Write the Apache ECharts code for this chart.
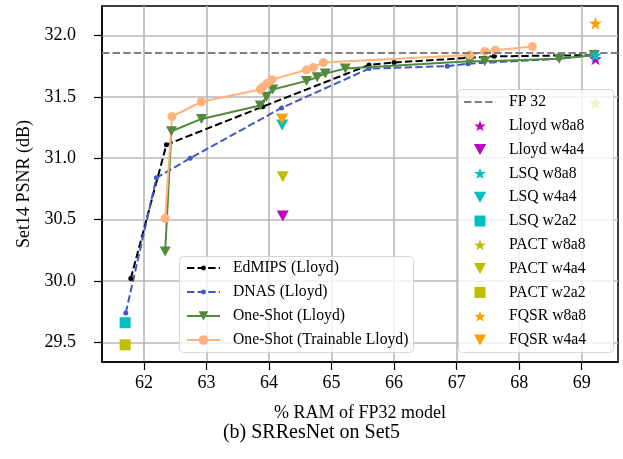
<!DOCTYPE html>
<html><head><meta charset="utf-8">
<script src="https://cdn.jsdelivr.net/npm/echarts@6/dist/echarts.min.js"></script>
<style>html,body{margin:0;padding:0;background:#fff}#c{width:623px;height:459px}</style>
</head><body><div id="c"></div><script>
// ---- data ----
const xTicks = [62, 63, 64, 65, 66, 67, 68, 69];
const yTicks = [29.5, 30.0, 30.5, 31.0, 31.5, 32.0];

const edmipsX = [61.79, 62.36, 63.90, 65.60, 66.00, 67.60, 69.20];
const edmipsY = [30.02, 31.11, 31.42, 31.76, 31.78, 31.83, 31.84];

const dnasX = [61.71, 62.20, 62.74, 64.20, 65.60, 66.85, 67.18, 68.63, 69.20];
const dnasY = [29.74, 30.84, 31.00, 31.41, 31.73, 31.75, 31.77, 31.81, 31.84];

const oneShotX = [62.34, 62.44, 62.92, 63.86, 63.96, 64.06, 64.60, 64.77, 64.90, 65.22, 67.21, 67.45, 68.64, 69.20];
const oneShotY = [30.24, 31.22, 31.32, 31.43, 31.50, 31.56, 31.63, 31.66, 31.69, 31.73, 31.79, 31.79, 31.81, 31.84];

const trainX = [62.34, 62.45, 62.92, 63.86, 63.90, 63.97, 64.05, 64.60, 64.71, 64.87, 67.21, 67.45, 67.62, 68.21];
const trainY = [30.51, 31.34, 31.46, 31.56, 31.58, 31.61, 31.64, 31.72, 31.74, 31.78, 31.84, 31.87, 31.88, 31.91];

const fp32 = 31.86;

const pointNames = ['Lloyd w8a8', 'Lloyd w4a4', 'LSQ w8a8', 'LSQ w4a4', 'LSQ w2a2',
  'PACT w8a8', 'PACT w4a4', 'PACT w2a2', 'FQSR w8a8', 'FQSR w4a4'];
const pointX = [69.22, 64.22, 69.22, 64.21, 61.70, 69.22, 64.22, 61.70, 69.22, 64.21];
const pointY = [31.81, 30.53, 31.84, 31.27, 29.66, 31.45, 30.85, 29.48, 32.10, 31.32];
const pointShape = ['star', 'tri', 'star', 'tri', 'sq', 'star', 'tri', 'sq', 'star', 'tri'];
const pointColor = ['#bf00bf', '#bf00bf', '#00bfbf', '#00bfbf', '#00bfbf',
  '#bfbf00', '#bfbf00', '#bfbf00', '#ffa000', '#ffa000'];

// ---- styling ----
const FONT = '"Liberation Serif", "DejaVu Serif", serif';
const STAR = 'path://M0,-10 L2.35,-3.24 L9.51,-3.09 L3.8,1.24 L5.88,8.09 L0,4 L-5.88,8.09 L-3.8,1.24 L-9.51,-3.09 L-2.35,-3.24 Z';
const TRI = 'path://M-5,-4.5 L5,-4.5 L0,4.5 Z';
const SQ = 'path://M-5,-5 L5,-5 L5,5 L-5,5 Z';
const shapePath = {star: STAR, tri: TRI, sq: SQ};
const shapeSize = {star: [13, 13], tri: [12, 11], sq: [11, 11]};
const DASH = [7.4, 3.2];
const C_BLUE = '#4355c8', C_GREEN = '#528a3d', C_ORANGE = '#ffb27c', C_GRAY = '#808080';

const zip = (a, b) => a.map((v, i) => [v, b[i]]);

const series = [
  {
    name: 'FP 32', type: 'line', data: [], symbol: 'none', color: C_GRAY,
    lineStyle: {color: C_GRAY, type: DASH, width: 2},
    markLine: {silent: true, symbol: ['none', 'none'], label: {show: false},
      lineStyle: {color: C_GRAY, type: DASH, width: 2}, data: [{yAxis: fp32}]},
    z: 2
  },
  {
    name: 'EdMIPS (Lloyd)', type: 'line', data: zip(edmipsX, edmipsY), color: '#000',
    symbol: 'circle', symbolSize: 5, lineStyle: {color: '#000', type: DASH, width: 2},
    itemStyle: {color: '#000'}, z: 3
  },
  {
    name: 'DNAS (Lloyd)', type: 'line', data: zip(dnasX, dnasY), color: C_BLUE,
    symbol: 'circle', symbolSize: 5, lineStyle: {color: C_BLUE, type: DASH, width: 2},
    itemStyle: {color: C_BLUE}, z: 3
  },
  {
    name: 'One-Shot (Lloyd)', type: 'line', data: zip(oneShotX, oneShotY), color: C_GREEN,
    symbol: TRI, symbolSize: [11, 10], lineStyle: {color: C_GREEN, width: 2},
    itemStyle: {color: C_GREEN}, z: 4
  },
  {
    name: 'One-Shot (Trainable Lloyd)', type: 'line', data: zip(trainX, trainY), color: C_ORANGE,
    symbol: 'circle', symbolSize: 9, lineStyle: {color: C_ORANGE, width: 2},
    itemStyle: {color: C_ORANGE}, z: 4
  }
];
pointNames.forEach((n, i) => {
  series.push({
    name: n, type: 'scatter', data: [[pointX[i], pointY[i]]],
    symbol: shapePath[pointShape[i]], symbolSize: shapeSize[pointShape[i]],
    itemStyle: {color: pointColor[i], opacity: 1}, color: pointColor[i], z: 5
  });
});

const legendText = {fontFamily: FONT, fontSize: 15.7, color: '#000', padding: [0, 0, 0, 8]};
const legendBase = {orient: 'vertical', padding: 0, backgroundColor: 'transparent', textStyle: legendText, z: 10};
const boxStyle = {fill: 'rgba(255,255,255,0.8)', stroke: 'rgba(204,204,204,0.8)', lineWidth: 1};

const option = {
  animation: false,
  backgroundColor: '#fff',
  title: {
    text: '(b) SRResNet on Set5', left: 'center', top: 418,
    textStyle: {fontFamily: FONT, fontSize: 20, fontWeight: 'normal', color: '#000'}
  },
  graphic: [
    {type: 'rect', z: 8, silent: true, shape: {x: 179.5, y: 256.5, width: 234, height: 96, r: 4}, style: boxStyle},
    {type: 'rect', z: 8, silent: true, shape: {x: 458.5, y: 89.5, width: 155, height: 263, r: 4}, style: boxStyle}
  ],
  grid: {left: 102, right: 5, top: 6, bottom: 97, show: true, borderColor: '#000', borderWidth: 1.5, containLabel: false},
  xAxis: {
    type: 'value', min: 61.33, max: 69.58,
    name: '% RAM of FP32 model', nameLocation: 'middle', nameGap: 42,
    nameTextStyle: {fontFamily: FONT, fontSize: 18, color: '#000'},
    axisLine: {show: true, lineStyle: {color: '#000', width: 1.5}},
    axisTick: {show: true, length: 8, inside: false, customValues: xTicks, lineStyle: {color: '#000', width: 1.2}},
    axisLabel: {customValues: xTicks, margin: 12, fontFamily: FONT, fontSize: 18, color: '#000',
      formatter: v => String(Math.round(v))},
    splitLine: {show: true, lineStyle: {color: '#b8b8b8', width: 1.6}}
  },
  yAxis: {
    type: 'value', min: 29.34, max: 32.24,
    name: 'Set14 PSNR (dB)', nameLocation: 'middle', nameGap: 68, nameRotate: 90,
    nameTextStyle: {fontFamily: FONT, fontSize: 18, color: '#000'},
    axisLine: {show: true, lineStyle: {color: '#000', width: 1.5}},
    axisTick: {show: true, length: 8, inside: false, customValues: yTicks, lineStyle: {color: '#000', width: 1.2}},
    axisLabel: {customValues: yTicks, margin: 26, fontFamily: FONT, fontSize: 18, color: '#000',
      formatter: v => v.toFixed(1)},
    splitLine: {show: true, lineStyle: {color: '#b8b8b8', width: 1.6}}
  },
  legend: [
    Object.assign({}, legendBase, {
      left: 186, top: 260, itemGap: 8, itemWidth: 33, itemHeight: 6,
      data: ['EdMIPS (Lloyd)', 'DNAS (Lloyd)']
    }),
    Object.assign({}, legendBase, {
      left: 186, top: 308, itemGap: 8, itemWidth: 33, itemHeight: 12,
      data: ['One-Shot (Lloyd)', 'One-Shot (Trainable Lloyd)']
    }),
    Object.assign({}, legendBase, {
      left: 463, top: 94, itemGap: 7.8, itemWidth: 32, itemHeight: 11,
      data: [{name: 'FP 32', itemStyle: {opacity: 0}}]
        .concat(pointNames.map((n, i) => ({name: n, icon: shapePath[pointShape[i]]})))
    })
  ],
  series: series
};

const chart = echarts.init(document.getElementById('c'), null, {renderer: 'canvas'});
chart.setOption(option);
</script></body></html>
